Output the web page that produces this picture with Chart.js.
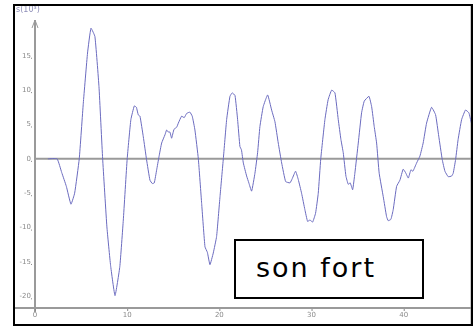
<!DOCTYPE html>
<html>
<head>
<meta charset="utf-8">
<script src="https://cdn.jsdelivr.net/npm/chart.js@4"></script>
<style>
  html, body { margin: 0; padding: 0; background: #fff; }
  #wrap { position: relative; width: 473px; height: 326px; }
  #sig { display: block; }
  #note {
    position: absolute; left: 234px; top: 239px; width: 190px; height: 60px;
    box-sizing: border-box; border: 2px solid #000; background: #fff;
  }
  #note span {
    position: absolute; left: 20px; top: 13px;
    font-family: "Comic Sans MS", "DejaVu Sans", sans-serif; font-size: 27px;
    letter-spacing: 2px; color: #000; line-height: 1;
  }
</style>
</head>
<body>
<div id="wrap">
  <canvas id="sig" width="473" height="326"></canvas>
  <div id="note"><span>son fort</span></div>
</div>
<script>
const time = [
  1.4, 2.4, 2.9, 3.4, 3.9, 4.3, 4.8, 5.24, 5.7, 6.07,
  6.5, 6.94, 7.34, 7.8, 8.2, 8.68, 9.2, 9.58, 10.0, 10.4,
  10.77, 11.0, 11.2, 11.39, 11.75, 12.1, 12.47, 12.73, 12.94, 13.2,
  13.45, 13.74, 14.1, 14.28, 14.46, 14.64, 14.82, 15.08, 15.37, 15.55,
  15.9, 16.19, 16.45, 16.8, 17.06, 17.35, 17.72, 18.08, 18.44, 18.7,
  18.98, 19.34, 19.7, 20.07, 20.43, 20.79, 21.15, 21.4, 21.7, 21.98,
  22.23, 22.4, 22.6, 22.96, 23.2, 23.5, 23.86, 24.15, 24.4, 24.76,
  25.24, 25.67, 26.03, 26.39, 26.76, 27.19, 27.66, 27.9, 28.27, 28.56,
  28.92, 29.28, 29.57, 29.83, 30.12, 30.44, 30.73, 31.0, 31.45, 31.8,
  32.18, 32.54, 32.9, 33.19, 33.44, 33.73, 33.98, 34.2, 34.46, 34.7,
  35.07, 35.43, 35.72, 36.23, 36.52, 36.8, 37.06, 37.34, 37.78, 38.14,
  38.32, 38.61, 38.86, 39.23, 39.59, 39.94, 40.2, 40.5, 40.78, 41.0,
  41.4, 41.76, 42.11, 42.48, 43.02, 43.46, 43.8, 44.18, 44.47, 44.83,
  45.2, 45.37, 45.63, 45.9, 46.28, 46.7, 47.07, 47.35
];
const signal = [
  0, 0, -2, -4, -6.6, -5, 0, 8.1, 15.4, 19.0,
  17.8, 10.5, 0, -9.9, -15.5, -19.9, -15.7, -8.9, 0, 5.7,
  7.7, 7.5, 6.4, 6.2, 3.2, -0.1, -3.1, -3.6, -3.5, -1.6,
  0.3, 2.3, 3.5, 4.2, 3.9, 3.9, 3.0, 4.3, 4.6, 5.2,
  6.2, 6.0, 6.6, 6.8, 6.2, 4.2, 0, -6.5, -12.8, -13.6,
  -15.4, -13.7, -11.3, -5.5, 0, 5.7, 9.1, 9.6, 9.2, 5.7,
  1.8, 1.3, -0.6, -2.5, -3.5, -4.7, -2.1, 0.9, 4.7, 7.6,
  9.3, 7.1, 5.4, 2.3, -0.6, -3.3, -3.5, -2.9, -1.8, -3.0,
  -5.0, -7.4, -9.1, -8.9, -9.2, -7.9, -5.0, 0, 5.7, 8.6,
  10.0, 9.6, 5.7, 2.8, 0.9, -2.5, -3.7, -3.5, -4.5, -2.1,
  2.3, 6.7, 8.4, 9.1, 7.6, 4.7, 2.3, -2.1, -5.5, -8.4,
  -9.0, -8.8, -7.4, -4.0, -3.1, -1.5, -2.0, -2.8, -1.6, -1.8,
  -0.6, 0.4, 2.3, 5.2, 7.5, 6.4, 3.3, -0.1, -1.8, -2.6,
  -2.5, -2.1, -0.1, 2.8, 5.7, 7.1, 6.7, 5.2
];
const xTicks = [0, 10, 20, 30, 40];
const yTicks = [-20, -15, -10, -5, 0, 5, 10, 15];
const yTitle = 's(10³)';

const axisGray = '#9a9a9a';

const axesPlugin = {
  id: 'oldAxes',
  beforeDatasetsDraw(chart) {
    const { ctx, chartArea: a, scales: { x, y } } = chart;
    const x0 = x.getPixelForValue(0);
    const yz = y.getPixelForValue(0);
    ctx.save();
    ctx.strokeStyle = axisGray;
    ctx.lineWidth = 2;
    // zero line
    ctx.beginPath();
    ctx.moveTo(x0, yz); ctx.lineTo(a.right, yz);
    ctx.stroke();
    // x axis along the bottom
    ctx.beginPath();
    ctx.moveTo(14, a.bottom); ctx.lineTo(a.right, a.bottom);
    ctx.stroke();
    // y axis with arrow
    ctx.beginPath();
    ctx.moveTo(x0, a.bottom + 4); ctx.lineTo(x0, a.top);
    ctx.stroke();
    ctx.lineWidth = 1;
    ctx.beginPath();
    ctx.moveTo(x0 - 3, a.top + 8); ctx.lineTo(x0, a.top); ctx.lineTo(x0 + 3, a.top + 8);
    ctx.stroke();
    // right edge
    ctx.beginPath();
    ctx.moveTo(a.right, 5); ctx.lineTo(a.right, 325);
    ctx.stroke();

    ctx.fillStyle = '#8a8a8a';
    ctx.font = '7px "DejaVu Sans", sans-serif';
    ctx.textAlign = 'right';
    ctx.textBaseline = 'middle';
    yTicks.forEach(v => {
      const py = y.getPixelForValue(v);
      ctx.fillText(String(v), x0 - 4, py);
      ctx.fillRect(x0 - 4, py + 2, 1, 1);
    });
    ctx.textAlign = 'center';
    ctx.textBaseline = 'top';
    xTicks.forEach(v => {
      const px = x.getPixelForValue(v);
      ctx.fillRect(px, a.bottom + 1, 1, 2);
      ctx.fillText(String(v), px, a.bottom + 4);
    });
    ctx.fillStyle = '#8e8eb8';
    ctx.textAlign = 'left';
    ctx.font = '8px "DejaVu Sans", sans-serif';
    ctx.fillText(yTitle, 16, 6);
    ctx.restore();
  },
  afterDraw(chart) {
    const { ctx } = chart;
    ctx.save();
    ctx.strokeStyle = '#000';
    ctx.lineWidth = 2;
    ctx.strokeRect(14, 5, 458, 320);
    ctx.restore();
  }
};

new Chart(document.getElementById('sig'), {
  type: 'line',
  data: {
    datasets: [{
      label: 'son fort',
      data: time.map((t, i) => ({ x: t, y: signal[i] })),
      borderColor: '#6b6bbf',
      borderWidth: 1,
      pointRadius: 0,
      tension: 0.12,
      fill: false
    }]
  },
  options: {
    responsive: false,
    animation: false,
    layout: { padding: { left: 35, right: 2, top: 20, bottom: 18 } },
    scales: {
      x: { type: 'linear', min: 0, max: 47.3, display: false },
      y: { type: 'linear', min: -21.7, max: 20.2, display: false }
    },
    plugins: {
      legend: { display: false },
      tooltip: { enabled: false }
    }
  },
  plugins: [axesPlugin]
});
</script>
</body>
</html>
